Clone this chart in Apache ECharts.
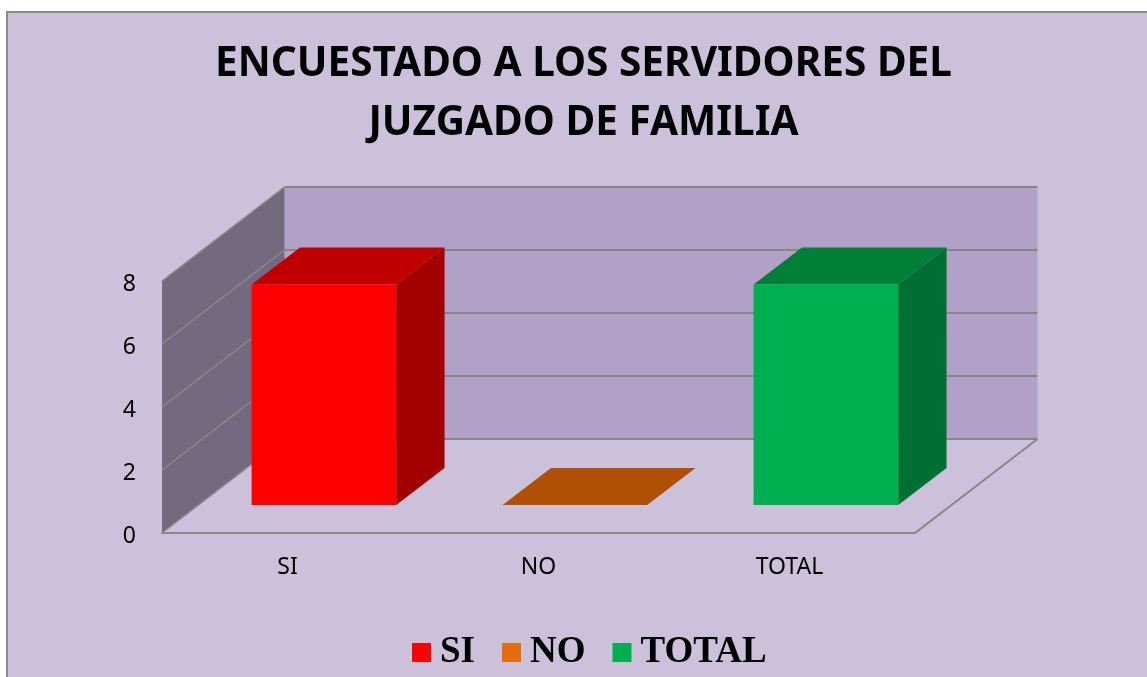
<!DOCTYPE html>
<html>
<head>
<meta charset="utf-8">
<title>Encuestado</title>
<script src="https://cdn.jsdelivr.net/npm/echarts@6/dist/echarts.min.js"></script>
<style>
html, body { margin: 0; padding: 0; background: #fff; overflow: hidden; }
.panel {
  position: absolute; left: 6px; top: 11px; width: 1160px; height: 700px;
  background: #ccc1da; border: 2px solid #8a8a8a;
}
#chart { position: absolute; left: 0; top: 0; width: 1147px; height: 677px; }
</style>
</head>
<body>
<div class="panel"></div>
<div id="chart"></div>
<script>
const titleText = 'ENCUESTADO A LOS SERVIDORES DEL\nJUZGADO DE FAMILIA'
const categories = ['SI', 'NO', 'TOTAL']
const values = [7, 0, 7]
const tickValues = [0, 2, 4, 6, 8]

// front, top and side shades of each bar, legend uses the first one
const barColors = [
  { legend: '#ff0000', front: '#ff0000', top: '#c00000', side: '#a30000' },
  { legend: '#e46c0a', front: '#e46c0a', top: '#af5005', side: '#8a4004' },
  { legend: '#00b050', front: '#00b050', top: '#008036', side: '#006f32' }
]

// fake 3d depth of the walls, in pixels
const depthX = 122.5
const depthY = 94
const barShift = 0.297
const barDepth = 0.395
const barRatio = 0.576

function renderWall (params, api) {
  const tick = api.value(1)
  const cs = params.coordSys
  const x0 = cs.x
  const y = api.coord([0, tick])[1]
  const sideLine = { stroke: '#8a8a8a', lineWidth: 1.5, fill: null }
  const backLine = { stroke: '#868686', lineWidth: 2, fill: null }
  const children = []
  if (params.dataIndex === 0) {
    const yTop = api.coord([0, tickValues[tickValues.length - 1]])[1]
    children.push({
      type: 'polygon',
      shape: { points: [[x0 + depthX, y - depthY], [x0 + cs.width + depthX, y - depthY], [x0 + cs.width + depthX, yTop - depthY], [x0 + depthX, yTop - depthY]] },
      style: { fill: '#b2a1c7' }
    })
    children.push({
      type: 'polygon',
      shape: { points: [[x0, y], [x0 + depthX, y - depthY], [x0 + depthX, yTop - depthY], [x0, yTop]] },
      style: { fill: '#746a80' }
    })
    children.push({
      type: 'line',
      shape: { x1: x0 + cs.width, y1: y, x2: x0 + cs.width + depthX, y2: y - depthY },
      style: backLine
    })
  }
  children.push({
    type: 'line',
    shape: { x1: x0, y1: y, x2: x0 + depthX, y2: y - depthY },
    style: sideLine
  })
  children.push({
    type: 'line',
    shape: { x1: x0 + depthX, y1: y - depthY, x2: x0 + cs.width + depthX, y2: y - depthY },
    style: backLine
  })
  return { type: 'group', children: children }
}

function renderBar (params, api) {
  const idx = api.value(0)
  const colors = barColors[idx]
  const base = api.coord([idx, 0])
  const head = api.coord([idx, api.value(1)])
  const w = api.size([1, 0])[0] * barRatio
  const left = base[0] - w / 2 + depthX * barShift
  const right = left + w
  const bottom = base[1] - depthY * barShift
  const top = head[1] - depthY * barShift
  const dx = depthX * barDepth
  const dy = depthY * barDepth
  return {
    type: 'group',
    children: [
      {
        type: 'polygon',
        shape: { points: [[right, bottom], [right + dx, bottom - dy], [right + dx, top - dy], [right, top]] },
        style: { fill: colors.side }
      },
      {
        type: 'polygon',
        shape: { points: [[left, top], [right, top], [right + dx, top - dy], [left + dx, top - dy]] },
        style: { fill: colors.top }
      },
      {
        type: 'polygon',
        shape: { points: [[left, bottom], [right, bottom], [right, top], [left, top]] },
        style: { fill: colors.front }
      }
    ]
  }
}

const barSeries = categories.map((name, i) => ({
  name: name,
  type: 'custom',
  renderItem: renderBar,
  encode: { x: 0, y: 1 },
  itemStyle: { color: barColors[i].legend },
  data: [[i, values[i]]],
  z: 3
}))

const chart = echarts.init(document.getElementById('chart'))
chart.setOption({
  animation: false,
  backgroundColor: 'transparent',
  title: {
    text: titleText,
    left: 578.5,
    top: 30,
    textAlign: 'center',
    textStyle: {
      fontFamily: 'Noto Sans',
      fontWeight: 'bold',
      fontSize: 40.6,
      lineHeight: 59,
      color: '#000'
    }
  },
  legend: {
    data: categories,
    left: 407,
    top: 629,
    icon: 'rect',
    itemWidth: 19,
    itemHeight: 19,
    itemGap: 27,
    textStyle: {
      fontFamily: 'Liberation Serif',
      fontWeight: 'bold',
      fontSize: 37,
      color: '#000',
      padding: [0, 0, 0, 4]
    }
  },
  grid: { left: 162, right: 232, top: 281, bottom: 144 },
  xAxis: {
    type: 'category',
    data: categories,
    axisLine: { show: true, lineStyle: { color: '#8a8a8a', width: 2 } },
    axisTick: { show: false },
    axisLabel: { fontFamily: 'Noto Sans', fontSize: 23, color: '#000', margin: 23 },
    z: 2
  },
  yAxis: {
    type: 'value',
    min: tickValues[0],
    max: tickValues[tickValues.length - 1],
    interval: 2,
    axisLine: { show: false },
    axisTick: { show: false },
    splitLine: { show: false },
    axisLabel: {
      fontFamily: 'Noto Sans',
      fontSize: 23,
      color: '#000',
      margin: 26,
      verticalAlign: 'top',
      lineHeight: 6,
      showMinLabel: true,
      showMaxLabel: true
    }
  },
  series: [
    {
      type: 'custom',
      renderItem: renderWall,
      encode: { x: 0, y: 1 },
      silent: true,
      data: tickValues.map(t => [0, t]),
      z: 1
    }
  ].concat(barSeries)
})
</script>
</body>
</html>
